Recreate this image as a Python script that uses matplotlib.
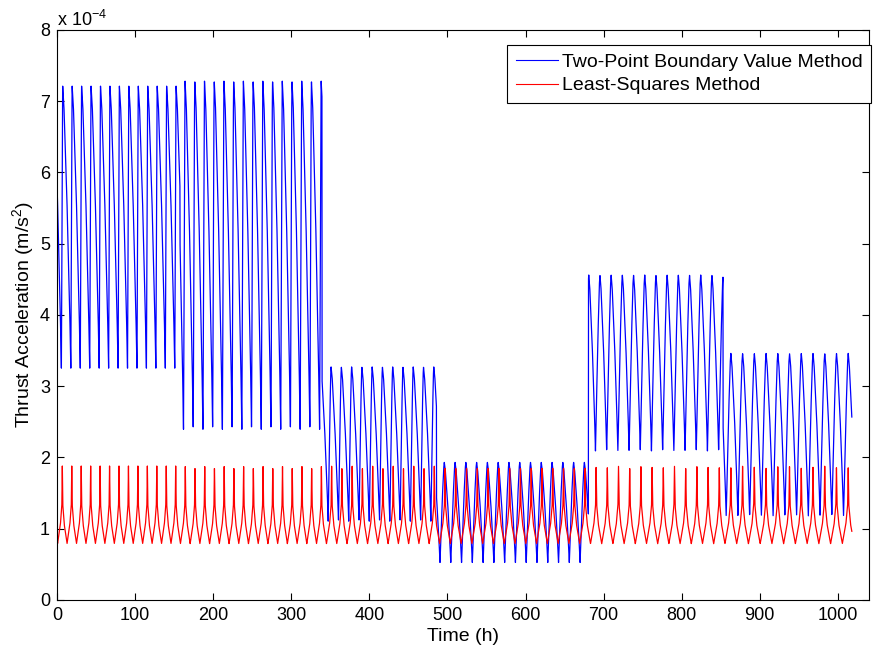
import numpy as np
import matplotlib
matplotlib.use("Agg")
import matplotlib.pyplot as plt

plt.rcParams["font.family"] = ["Liberation Sans", "DejaVu Sans"]
plt.rcParams["mathtext.fontset"] = "custom"
plt.rcParams["mathtext.rm"] = "Liberation Sans"
plt.rcParams["mathtext.it"] = "Liberation Sans:italic"

# Thrust arcs (acceleration in units of 1e-4 m/s^2)
seg_start = [0.0, 157.5, 339.4, 486.0, 680.6, 853.0]
seg_end = [157.5, 339.4, 486.0, 680.6, 853.0, 1018.0]
seg_period = [12.1, 12.45, 13.15, 13.8, 14.34, 15.03]   # hours per revolution
blue_first_peak = [7.3, 164.0, 351.0, 496.0, 681.0, 863.0]
blue_high = [7.21, 7.28, 3.27, 1.93, 4.56, 3.46]
blue_low = [3.25, 2.39, 1.10, 0.52, 2.09, 1.18]
blue_trough_phase = [0.86, 0.84, 0.72, 0.6, 0.6, 0.6]   # where the minimum sits, 0 = peak
red_first_peak = 6.8
red_high = 1.88
red_low = 0.79

# shape of the falling and rising parts of one blue revolution
fall_frac = [0.0, 0.15, 0.5, 0.85, 1.0]
fall_level = [1.0, 0.93, 0.62, 0.22, 0.0]
rise_frac = [0.0, 0.5, 0.85, 1.0]
rise_level = [0.0, 0.6, 0.94, 1.0]
# red revolution, phase measured from the peak
red_shape_phase = [0.0, 0.05, 0.2, 0.5, 0.8, 0.95, 1.0]
red_shape_level = [1.0, 0.5, 0.25, 0.0, 0.25, 0.5, 1.0]

t = np.arange(0.0, seg_end[-1], 0.1)
blue = np.zeros_like(t)

red_phase = np.zeros_like(t)
acc = -red_first_peak / seg_period[0]
for i in range(len(seg_start)):
    m = (t >= seg_start[i]) & (t < seg_end[i])
    # red keeps its orbit phase running across the arcs
    red_phase[m] = acc + (t[m] - seg_start[i]) / seg_period[i]
    acc = acc + (seg_end[i] - seg_start[i]) / seg_period[i]

    ph = ((t[m] - blue_first_peak[i]) / seg_period[i]) % 1.0
    tp = blue_trough_phase[i]
    lev = np.where(ph < tp,
                   np.interp(ph / tp, fall_frac, fall_level),
                   np.interp((ph - tp) / (1 - tp), rise_frac, rise_level))
    blue[m] = blue_low[i] + (blue_high[i] - blue_low[i]) * lev

lev = np.interp(red_phase % 1.0, red_shape_phase, red_shape_level)
red = red_low + (red_high - red_low) * lev

fig = plt.figure(figsize=(8.73, 6.52), dpi=100)
ax = fig.add_axes([0.0653, 0.0798, 0.9302, 0.8744])
ax.plot(t, blue, color="#0000ff", lw=0.9, label="Two-Point Boundary Value Method")
ax.plot(t, red, color="#ff0000", lw=0.9, label="Least-Squares Method")

ax.set_xlim(0, 1040)
ax.set_ylim(0, 8)
ax.set_xticks(np.arange(0, 1001, 100))
ax.set_yticks(np.arange(0, 9, 1))
ax.tick_params(direction="in", top=True, right=True, length=5, labelsize=13, pad=5)
for s in ax.spines.values():
    s.set_linewidth(0.8)

ax.text(0.0, 1.0, r"x 10$^{-4}$", transform=ax.transAxes, fontsize=13,
        ha="left", va="bottom")
ax.set_xlabel("Time (h)", fontsize=14, labelpad=3)
ax.set_ylabel(r"Thrust Acceleration (m/s$^{2}$)", fontsize=14, labelpad=3)

leg = ax.legend(loc="upper right", bbox_to_anchor=(1.0025, 0.974), fontsize=14,
                fancybox=False, framealpha=1, edgecolor="black",
                handlelength=2.15, handletextpad=0.2, borderpad=0.45,
                labelspacing=0.3, borderaxespad=0)
leg.get_frame().set_linewidth(0.8)
for ln in leg.get_lines():
    ln.set_linewidth(0.8)

fig.savefig("out.png", dpi=100)
